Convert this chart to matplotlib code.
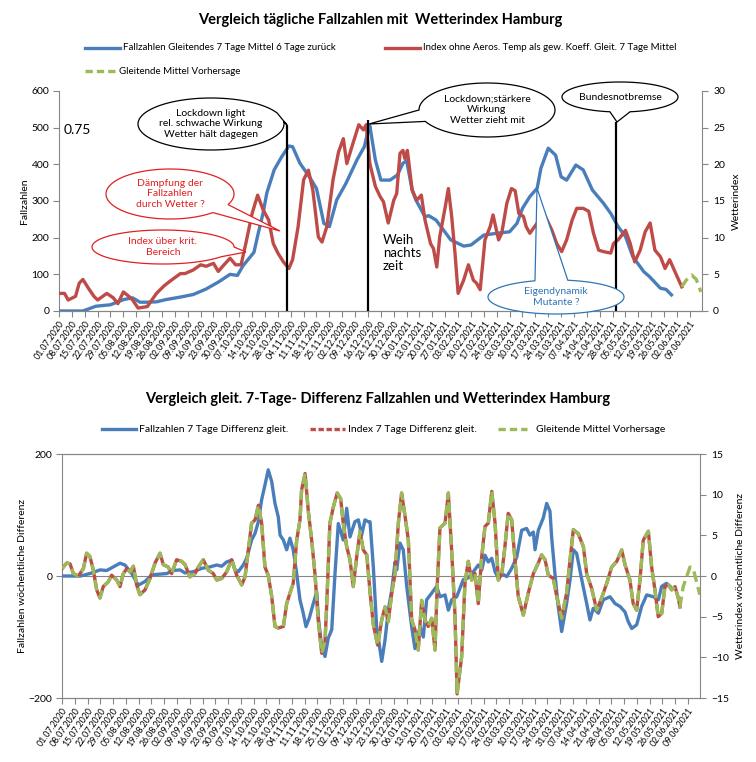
import numpy as np
import matplotlib
matplotlib.use("Agg")
import matplotlib.pyplot as plt
from matplotlib.patches import Polygon
from matplotlib.lines import Line2D

plt.rcParams['font.family'] = ['Lato', 'DejaVu Sans']

# ---------------- data ----------------
tick_labels = ["01.07.2020","08.07.2020","15.07.2020","22.07.2020","29.07.2020","05.08.2020","12.08.2020",
               "19.08.2020","26.08.2020","02.09.2020","09.09.2020","16.09.2020","23.09.2020","30.09.2020",
               "07.10.2020","14.10.2020","21.10.2020","28.10.2020","04.11.2020","11.11.2020","18.11.2020",
               "25.11.2020","02.12.2020","09.12.2020","16.12.2020","23.12.2020","30.12.2020","06.01.2021",
               "13.01.2021","20.01.2021","27.01.2021","03.02.2021","10.02.2021","17.02.2021","24.02.2021",
               "03.03.2021","10.03.2021","17.03.2021","24.03.2021","31.03.2021","07.04.2021","14.04.2021",
               "21.04.2021","28.04.2021","05.05.2021","12.05.2021","19.05.2021","26.05.2021","02.06.2021",
               "09.06.2021"]

# top chart: daily case numbers (7-day mean), day index since 01.07.2020
cases_days = [0,13,20,28,35,40,44,48,53,58,66,73,80,87,93,97,100,106,108,111,113,117,121,125,127,
              131,136,140,144,147,151,156,162,166,168,169,172,175,180,184,187,189,192,194,199,201,
              205,213,220,224,231,238,245,249,252,256,260,262,266,270,273,276,281,285,290,296,
              300,304,308,312,318,321,327,330,333]
cases_vals = [0,0,13,17,31,36,24,24,25,31,38,45,60,80,100,97,123,160,205,268,322,385,420,450,448,
              403,367,334,239,230,303,348,412,448,490,505,412,357,357,371,403,410,330,303,257,260,
              248,194,177,180,207,212,216,239,280,312,335,389,444,425,366,357,398,385,330,294,
              266,230,203,148,107,94,62,59,44]

# top chart: weather index (7-day mean)
index_days = [0,3,5,9,11,13,16,19,21,26,29.5,32,35,38,40,43,48,53,57,60,66,68.5,73,77,80,84,86.6,89,93,96,
              99,102,105,108,111,114,116.5,119,122,125,127,130,133,135.6,138,141,143,145.6,149,152,
              154.6,156.5,159,163,165.5,167,169,172,174.6,176.4,179,182,183.6,185.4,187,188,189.4,192,194.5,197,
              199,202,203.6,205.4,207,210,211.7,213.5,215.3,217,220,222.6,225.3,227,229,231.6,234.4,236,239,240.7,
              243.5,246,248,250,252.5,254,256,260,264,268,270.6,273.3,276,279,281.5,285,288,290.6,293.4,296,
              300,301.5,304,308,310.6,313,316,318.7,321.4,324,327,329.5,332,335,338.6]
index_vals = [2.4,2.4,1.5,2.0,3.8,4.3,3.1,2.0,1.5,2.4,1.8,1.0,2.6,2.0,1.5,0.4,0.6,2.4,3.4,4.0,5.1,5.1,5.6,6.3,6.1,6.5,5.4,6.1,7.2,6.3,
              6.3,9.7,13.3,15.8,13.8,12.4,9.2,7.9,6.7,5.8,7.0,11.5,17.9,19.2,16.5,10.1,9.4,11.5,17.9,21.7,
              23.5,20.1,22.2,25.4,24.7,25.4,20.1,17,15.6,14.9,12,15.1,16,21.5,21.9,20.8,21.9,16.5,15.1,15.8,
              12.4,9.2,8.5,6.0,10.1,14.2,16.7,12.9,7.9,2.4,4.2,6.3,4.2,3.8,2.9,9.7,11.5,13.1,9.7,10.6,
              14.7,16.7,16.4,13.3,12.9,11.5,10.6,12,13.1,11,9.2,8.1,9.7,12.4,14,14,13.6,10.6,8.3,8.1,
              7.9,9.2,9.7,11,9.2,6.7,8.3,10.8,12,8.3,7.4,5.8,7.0,5.3,3.3]

forecast_days = [338.6, 341, 344, 346.5, 349]
forecast_vals = [3.3, 4.2, 4.9, 4.3, 2.6]

# event markers (day, top value on case axis)
event_days = [124, 168, 303]
event_tops = [507, 521, 516]

# bottom chart: 7-day differences
cdiff_days = [0,10,15.3,20.8,24.5,28.1,31.8,34.5,38.2,41.8,45.5,49.2,53.7,57.4,61,64.7,67.4,72,76.5,81.1,
              84.8,87.5,90.2,93,94.8,96.6,99.3,101.2,103.9,105.8,107.6,109.4,111.2,113,114.9,116.7,118.5,119.5,121.3,123.1,
              124.9,126.7,128.6,130.4,132.2,133.7,135.5,137.7,139.6,140.4,142.3,144.1,145.9,147.8,149.6,151.4,154.1,156,157.8,160.5,
              162.4,164.2,166,167.8,168.8,170.6,172.4,175.2,177,178.8,180.7,182.5,183.4,185.2,187,188.9,191.6,193.4,196.2,198,
              199.8,202.6,205.3,207.1,209.9,211.7,213.5,216.3,219.9,222.6,225.4,228.1,230,231.8,233.6,235.5,237.3,239.1,241,243.7,
              246.4,249.2,251.9,254.6,256.4,258.3,259.2,261,263.7,265.6,267.4,268.3,270.1,271.9,273.8,276.5,278.4,280.2,282,284.8,
              287.5,289.3,291.1,293.9,296.6,300.3,303,305.8,308.5,310.3,312.2,314.9,317.6,320.4,324,326.8,328.6,331.3,333.2]
cdiff_vals = [0,0,4,10,9,15,21,18,4,-15,-9,2,3,4,9,10,5,7,12.5,15,
              18,16,23,26,10,7,18,29,59,70,89,125,149,174,155,119,97,67,59,43,
              62,43,4,-39,-61,-83,-69,-45,-26,-67,-116,-132,-102,-88,4,86,59,111,64,89,
              92,67,92,89,89,15,-83,-140,-105,-56,-23,23,10,54,43,-17,-83,-119,-83,-100,
              -39,-28,-17,-34,-31,-56,-39,-34,-6,-3,7,18,10,34,23,29,7,-3,4,-1,
              12.5,31,75,78,67,72,43,75,95,119,106,64,4,-50,-91,-45,-6,43,37,-6,
              -45,-72,-53,-61,-39,-34,-45,-50,-59,-75,-86,-80,-50,-31,-34,-39,-17,-12,-17]

idiff_days = [0,2.6,4.4,6.2,8.9,11.7,13.5,15.3,17.2,19,20.8,22.6,25.4,27.2,30,31.8,33.6,35.5,37.3,39.1,
              40.9,42.7,45.5,48.2,51,53.7,55.5,58.2,60.1,62.8,65.6,67.4,70.1,72.9,74.7,77.4,80.2,82.9,84.8,87.5,
              90.2,93,95.7,98.5,100.3,102.1,103.9,105.8,107.6,109.4,111.2,113,114.9,116.7,118.5,121.3,123.1,124.9,126.7,128.6,
              130.4,131.3,133.2,135,136.8,138.6,140.4,142.3,144.1,145,146.8,148.7,150.8,152.7,154.1,156,157.8,159.6,161.5,163.3,
              165.1,167,168.8,170.6,173,175.2,177,178.8,180.7,182.5,184.3,186.1,188,189.8,191.6,193.4,195.2,197.1,198.9,200.7,
              202.6,204.4,205.5,207.1,209.9,211.7,213.5,215.3,216.5,219,220.8,222.6,224.5,226.3,228.1,230,231.8,233.6,235.5,237.3,
              239.1,241,242.7,244.5,246.4,248.2,250,252.8,255.5,258.3,261,262.8,264.7,266.5,269.2,271.1,273.8,276.5,278.4,280.2,
              282.9,285.7,287.5,290.2,293,295.7,298.5,301.2,304,306.7,308.5,311.2,313,314.9,316.7,318.5,321.3,323.1,324.9,326.7,
              328.6,330.4,332.2,334.1,335.9,337.7,338.6]
idiff_vals = [0.9,1.6,1.5,0.3,0,0.9,2.8,2.4,0.7,-1.7,-2.7,-1.3,-0.7,0.1,-0.5,-1.3,0.3,0.9,0.5,1.2,
              -1.1,-2.3,-1.7,-0.3,1.6,2.8,1.4,1.1,0.3,2,1.8,1.4,-0.1,0.3,1.1,2,0.7,0.3,-0.5,-0.3,
              0.5,2,0.1,-1.1,-0.1,3.2,6.5,6.9,8.7,6.5,1.1,0.1,-2.5,-6.2,-6.4,-6.2,-3.4,-2.1,-0.9,4.4,
              6.9,10.6,12.6,7.9,4.4,0.3,-5.4,-9.5,-8.1,-3.8,6.5,8.5,10.2,9.5,6.5,3.6,2,-1.3,2.4,5.5,
              3.2,2.6,-2,-6,-8.5,-5.4,-3.8,-5.6,-2.1,0.3,6.5,10.2,7.3,4.4,-5.4,-6.6,-9.1,-3,-5.4,-6.2,
              -5.2,-9.1,-1.7,5.9,6.5,10.2,3.2,-4.6,-14.5,-9.9,-0.9,1.8,-0.5,0.3,-3.4,2.4,6.1,6.5,10.4,6.5,
              -0.5,0.3,3.6,7.7,6.9,2,-2.5,-4.8,-2.1,0.3,1.6,2.6,2,0.1,-0.3,-2.5,-5.2,-2.1,2,5.7,
              5.2,3.6,0.3,-1.5,-4.2,-2.7,-0.9,1.1,1.8,3.2,1.4,-0.5,-3.4,-4.2,-0.5,4.4,5.5,1.1,-1.7,-5,
              -4.6,-1.3,-1.1,-1.7,-1.3,-2.7,-3.8]

dforecast_days = [338.6, 340.4, 344.1, 345.9, 349.5]
dforecast_vals = [-3.8, -1.3, 1.1, 0.9, -2.3]

# ---------------- style ----------------
BLUE = '#4A7EBB'
RED = '#BE4B48'
GREEN = '#9BBB59'
GRAY = '#868686'
LW = 2.4
W, H = 756, 762

def fx(x):
    return x / W

def fy(y):
    return 1 - y / H

fig = plt.figure(figsize=(W / 100, H / 100), dpi=100)

tick_pos = np.arange(len(tick_labels)) * 7
XMAX = 349.6

def style_axes(ax, axr, frame):
    for a in (ax, axr):
        for s in a.spines.values():
            s.set_color(GRAY)
            s.set_linewidth(0.8)
        a.spines['top'].set_visible(frame)
    axr.spines['left'].set_visible(False)
    ax.spines['right'].set_visible(False)
    ax.tick_params(axis='y', direction='out', length=4, color=GRAY, labelsize=7.5, pad=3)
    axr.tick_params(axis='y', direction='out', length=4, color=GRAY, labelsize=7.5, pad=4)
    ax.set_xlim(0, XMAX)
    ax.set_xticks(tick_pos)
    ax.set_xticklabels(tick_labels, rotation=55, ha='right', va='top',
                       rotation_mode='anchor', fontsize=6.3)
    ax.tick_params(axis='x', direction='out', length=4, color=GRAY, pad=2)

# ---------------- top chart ----------------
ax1 = fig.add_axes([fx(59), fy(311), fx(702) - fx(59), fy(91) - fy(311)])
ax1r = ax1.twinx()
style_axes(ax1, ax1r, False)
ax1.set_ylim(0, 600)
ax1.set_yticks(range(0, 601, 100))
ax1r.set_ylim(0, 30)
ax1r.set_yticks(range(0, 31, 5))
ax1.set_ylabel('Fallzahlen', fontsize=7.5, labelpad=2)
ax1r.set_ylabel('Wetterindex', fontsize=7.5, labelpad=5)

ax1.plot(cases_days, cases_vals, color=BLUE, lw=LW, solid_joinstyle='round', zorder=3)
ax1r.plot(index_days, index_vals, color=RED, lw=LW, solid_joinstyle='round', zorder=3)
ax1r.plot(forecast_days, forecast_vals, color=GREEN, lw=LW, dashes=(3, 1.6), zorder=3)
ax1r.vlines(event_days, 0, np.array(event_tops) / 20.0, colors='black', lw=1.6, zorder=4)

# ---------------- bottom chart ----------------
ax2 = fig.add_axes([fx(62), fy(698), fx(700) - fx(62), fy(454) - fy(698)])
ax2r = ax2.twinx()
style_axes(ax2, ax2r, True)
ax2.set_ylim(-200, 200)
ax2.set_yticks([-200, 0, 200])
ax2r.set_ylim(-15, 15)
ax2r.set_yticks(range(-15, 16, 5))
ax2.axhline(0, color=GRAY, lw=0.8, zorder=1)
ax2.set_ylabel('Fallzahlen wöchentliche Differenz', fontsize=7.5, labelpad=1)
ax2r.set_ylabel('Wetterindex wöchentliche Differenz', fontsize=7.5, labelpad=5)

ax2.plot(cdiff_days, cdiff_vals, color=BLUE, lw=LW, solid_joinstyle='round', zorder=3)
ax2r.plot(idiff_days, idiff_vals, color=RED, lw=LW, solid_joinstyle='round', zorder=3)
ax2r.plot(list(idiff_days) + dforecast_days[1:], list(idiff_vals) + dforecast_vals[1:],
          color=GREEN, lw=LW, dashes=(3.2, 1.6), zorder=4)

# ---------------- titles & legends ----------------
fig.text(fx(380), fy(20), 'Vergleich tägliche Fallzahlen mit  Wetterindex Hamburg',
         ha='center', va='center', fontsize=10.5, fontweight='bold')
fig.text(fx(378), fy(399), 'Vergleich gleit. 7-Tage- Differenz Fallzahlen und Wetterindex Hamburg',
         ha='center', va='center', fontsize=10.5, fontweight='bold')

def leg(x0, x1, y, color, label, dashed=False, fs=7):
    kw = dict(dashes=(2.2, 1.2)) if dashed else {}
    fig.add_artist(Line2D([fx(x0), fx(x1)], [fy(y), fy(y)], transform=fig.transFigure,
                          color=color, lw=LW, **kw))
    fig.text(fx(x1 + 3), fy(y), label, ha='left', va='center', fontsize=fs)

leg(85, 120, 48, BLUE, 'Fallzahlen Gleitendes 7 Tage Mittel 6 Tage zurück')
leg(385, 420, 48, RED, 'Index ohne Aeros. Temp als gew. Koeff. Gleit. 7 Tage Mittel')
leg(85, 116, 71, GREEN, 'Gleitende Mittel Vorhersage', dashed=True)

fig.add_artist(Line2D([fx(102), fx(136)], [fy(429), fy(429)], transform=fig.transFigure, color=BLUE, lw=LW))
fig.text(fx(139), fy(429), 'Fallzahlen 7 Tage Differenz gleit.', ha='left', va='center', fontsize=7.5)
fig.add_artist(Line2D([fx(310), fx(345)], [fy(429), fy(429)], transform=fig.transFigure, color=RED, lw=LW,
                      dashes=(1.6, 0.8)))
fig.text(fx(348), fy(429), 'Index 7 Tage Differenz gleit.', ha='left', va='center', fontsize=7.5)
fig.add_artist(Line2D([fx(498), fx(527)], [fy(429), fy(429)], transform=fig.transFigure, color=GREEN, lw=LW,
                      dashes=(2.2, 1.2)))
fig.text(fx(536), fy(429), 'Gleitende Mittel Vorhersage', ha='left', va='center', fontsize=7.5)

# ---------------- annotations ----------------
def callout(cx, cy, w, h, tip, a0, a1, ec, text, tc, fs=7.5):
    t = np.radians(np.linspace(a1, a0 + 360, 160))
    xs = cx + w / 2 * np.cos(t)
    ys = cy + h / 2 * np.sin(t)
    pts = [(fx(x), fy(y)) for x, y in zip(xs, ys)] + [(fx(tip[0]), fy(tip[1]))]
    fig.add_artist(Polygon(pts, closed=True, transform=fig.transFigure, facecolor='white',
                           edgecolor=ec, lw=0.9, zorder=5))
    fig.text(fx(cx), fy(cy), text, ha='center', va='center', color=tc, fontsize=fs,
             linespacing=1.2, zorder=6)

callout(211, 124, 146, 52, (287, 125), -25, -5, 'black',
        'Lockdown light\nrel. schwache Wirkung\nWetter hält dagegen', 'black')
callout(487, 110, 136, 54, (369, 124), 155, 180, 'black',
        'Lockdown;stärkere\nWirkung\nWetter zieht mit', 'black')
callout(620, 97, 116, 30, (617, 122), 80, 100, 'black', 'Bundesnotbremse', 'black')
callout(170, 194, 128, 50, (280, 231), 25, 48, '#E02020',
        'Dämpfung der\nFallzahlen\ndurch Wetter ?', '#E02020')
callout(163, 247, 142, 34, (246, 252), 0, 35, '#E02020',
        'Index über krit.\nBereich', '#E02020')
callout(556, 297, 136, 34, (537, 188), 252, 280, '#2E75B6',
        'Eigendynamik\nMutante ?', '#2E75B6')

fig.text(fx(64), fy(130), '0.75', ha='left', va='center', fontsize=10)
fig.text(fx(383), fy(253), 'Weih\nnachts\nzeit', ha='left', va='center', fontsize=9.5, linespacing=1.15)

fig.savefig('out.png', dpi=100)
